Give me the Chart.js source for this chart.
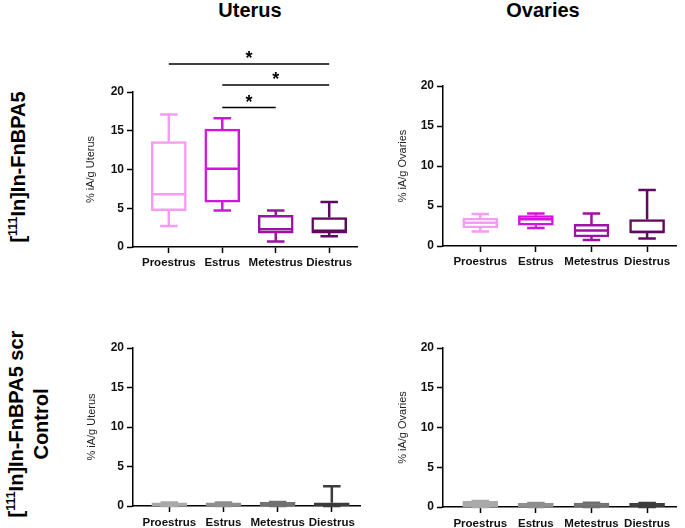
<!DOCTYPE html>
<html>
<head>
<meta charset="utf-8">
<script src="https://cdn.jsdelivr.net/npm/chart.js@4.4.1/dist/chart.umd.min.js"></script>
<style>
    body { margin: 0; background: #fff; }
    #wrap { position: relative; width: 685px; height: 528px; overflow: hidden; font-family: 'Liberation Sans', Arial, sans-serif; color: #000; }
    canvas { position: absolute; }
    .title { position: absolute; top: 0; font-weight: bold; font-size: 20px; line-height: 20px; transform: translateX(-50%); white-space: nowrap; }
    .row { position: absolute; font-weight: bold; font-size: 20px; text-align: center; white-space: nowrap; transform: translate(-50%, -50%) rotate(-90deg); }
    .row sup { font-size: 0.62em; vertical-align: super; line-height: 0; }
</style>
</head>
<body>
<div id="wrap">
    <div class="title" style="left:250px">Uterus</div>
    <div class="title" style="left:543px">Ovaries</div>
    <div class="row" style="left:18px; top:167px; line-height:22px">[<sup>111</sup>In]In-FnBPA5</div>
    <div class="row" style="left:29px; top:424px; line-height:25px">[<sup>111</sup>In]In-FnBPA5 scr<br>Control</div>
    <canvas id="c1" width="292" height="235" style="left:70px; top:40px"></canvas>
    <canvas id="c2" width="300" height="235" style="left:380px; top:40px"></canvas>
    <canvas id="c3" width="292" height="198" style="left:70px; top:330px"></canvas>
    <canvas id="c4" width="300" height="198" style="left:380px; top:330px"></canvas>
</div>
<script>
const categories = ['Proestrus', 'Estrus', 'Metestrus', 'Diestrus'];
const yTicks = [0, 5, 10, 15, 20];

// [111In]In-FnBPA5, uterus
const uterusMin = [2.7, 4.7, 0.7, 1.4];
const uterusQ1 = [4.7, 5.8, 1.8, 1.8];
const uterusMedian = [6.8, 10.1, 2.3, 2.1];
const uterusQ3 = [13.6, 15.2, 4.1, 3.8];
const uterusMax = [17.1, 16.6, 4.7, 5.8];

// [111In]In-FnBPA5, ovaries
const ovariesMin = [1.8, 2.25, 0.75, 0.95];
const ovariesQ1 = [2.25, 2.6, 1.15, 1.65];
const ovariesMedian = [2.9, 3.35, 1.95, 1.75];
const ovariesQ3 = [3.5, 3.8, 2.7, 3.3];
const ovariesMax = [4.0, 4.05, 4.05, 7.0];

// scr control, uterus
const scrUterusMin = [0, 0, 0, 0];
const scrUterusQ1 = [0.05, 0.05, 0.05, 0.05];
const scrUterusMedian = [0.2, 0.2, 0.2, 0.2];
const scrUterusQ3 = [0.4, 0.4, 0.45, 0.4];
const scrUterusMax = [0.45, 0.45, 0.5, 2.5];

// scr control, ovaries
const scrOvariesMin = [0, 0, 0, 0];
const scrOvariesQ1 = [0.05, 0.05, 0.05, 0.05];
const scrOvariesMedian = [0.3, 0.2, 0.2, 0.2];
const scrOvariesQ3 = [0.7, 0.45, 0.5, 0.45];
const scrOvariesMax = [0.75, 0.5, 0.55, 0.5];

// significance brackets (uterus panel)
const sigFrom = [0, 1, 1];
const sigTo = [3, 3, 2];
const sigY = [23.6, 20.9, 18.0];
const sigLabel = ['*', '*', '*'];

const phaseColors = ['#f59bf0', '#d414de', '#9c12a6', '#5e0a60'];
const greyColors = ['#a9a9a9', '#8e8e8e', '#707070', '#3c3c3c'];
const FONT = "'Liberation Sans', Arial, sans-serif";
Chart.defaults.font.family = FONT;

const boxPlugin = {
    id: 'boxWhiskers',
    afterDatasetsDraw(chart) {
        const ctx = chart.ctx;
        const y = chart.scales.y;
        chart.data.datasets.forEach((ds, di) => {
            const meta = chart.getDatasetMeta(di);
            meta.data.forEach((bar, i) => {
                const cx = bar.x;
                const half = bar.width / 2;
                const cap = half / 2;
                const yMin = y.getPixelForValue(ds.whiskerMin[i]);
                const yMax = y.getPixelForValue(ds.whiskerMax[i]);
                const yQ1 = y.getPixelForValue(ds.data[i].y[0]);
                const yQ3 = y.getPixelForValue(ds.data[i].y[1]);
                const yMed = y.getPixelForValue(ds.median[i]);
                ctx.save();
                ctx.strokeStyle = ds.borderColor[i];
                ctx.lineWidth = ds.borderWidth;
                ctx.beginPath();
                if (yMax < yQ3) {
                    ctx.moveTo(cx, yQ3); ctx.lineTo(cx, yMax);
                    ctx.moveTo(cx - cap, yMax); ctx.lineTo(cx + cap, yMax);
                }
                if (yMin > yQ1) {
                    ctx.moveTo(cx, yQ1); ctx.lineTo(cx, yMin);
                    ctx.moveTo(cx - cap, yMin); ctx.lineTo(cx + cap, yMin);
                }
                ctx.moveTo(cx - half + 1, yMed); ctx.lineTo(cx + half - 1, yMed);
                ctx.stroke();
                ctx.restore();
            });
        });
    }
};

const sigPlugin = {
    id: 'sigBrackets',
    afterDraw(chart, args, opts) {
        if (!opts.show) return;
        const ctx = chart.ctx;
        const x = chart.scales.x;
        const y = chart.scales.y;
        ctx.save();
        ctx.strokeStyle = '#000';
        ctx.fillStyle = '#000';
        ctx.lineWidth = 1.5;
        ctx.font = 'bold 18px ' + FONT;
        ctx.textAlign = 'center';
        ctx.textBaseline = 'alphabetic';
        sigFrom.forEach((from, i) => {
            const x0 = x.getPixelForValue(from);
            const x1 = x.getPixelForValue(sigTo[i]);
            const py = y.getPixelForValue(sigY[i]);
            ctx.beginPath();
            ctx.moveTo(x0, py); ctx.lineTo(x1, py);
            ctx.stroke();
            ctx.fillText(sigLabel[i], (x0 + x1) / 2, py);
        });
        ctx.restore();
    }
};

function makePanel(id, p) {
    const data = categories.map((c, i) => ({ x: i, y: [p.q1[i], p.q3[i]] }));
    const grid = { drawOnChartArea: false, drawTicks: true, tickLength: 6, tickWidth: 1.5, tickColor: '#000', offset: false };
    const border = { display: true, color: '#000', width: 1.5 };
    return new Chart(document.getElementById(id), {
        type: 'bar',
        data: {
            datasets: [{
                data: data,
                whiskerMin: p.min,
                whiskerMax: p.max,
                median: p.median,
                backgroundColor: p.fill,
                borderColor: p.colors,
                borderWidth: 2.5,
                borderSkipped: false,
                barThickness: 35
            }]
        },
        options: {
            responsive: false,
            animation: false,
            layout: { padding: p.pad },
            plugins: {
                legend: { display: false },
                tooltip: { enabled: false },
                sigBrackets: { show: !!p.sig }
            },
            scales: {
                x: {
                    type: 'linear',
                    offset: false,
                    min: -0.67,
                    max: 3.52,
                    afterBuildTicks: s => { s.ticks = categories.map((c, i) => ({ value: i })); },
                    afterFit: s => { s.height = p.xH; },
                    grid: grid,
                    border: border,
                    ticks: {
                        autoSkip: false, maxRotation: 0, minRotation: 0, padding: p.tickPad,
                        color: '#111', font: { size: 11.5, weight: 'bold' },
                        callback: v => categories[v]
                    }
                },
                y: {
                    min: 0,
                    max: 20,
                    afterBuildTicks: s => { s.ticks = yTicks.map(v => ({ value: v })); },
                    afterFit: s => { s.width = p.yW; },
                    grid: grid,
                    border: border,
                    ticks: { padding: 3, color: '#111', font: { size: 12, weight: 'bold' } },
                    title: { display: true, text: p.yTitle, padding: 0, color: '#222', font: { size: 11 } }
                }
            }
        },
        plugins: [boxPlugin, sigPlugin]
    });
}

makePanel('c1', {
    q1: uterusQ1, q3: uterusQ3, min: uterusMin, max: uterusMax, median: uterusMedian,
    colors: phaseColors, fill: '#ffffff', yTitle: '% iA/g Uterus', sig: true,
    pad: { left: 14, right: 5, top: 52, bottom: 0 }, yW: 49, xH: 28, tickPad: 3
});
makePanel('c2', {
    q1: ovariesQ1, q3: ovariesQ3, min: ovariesMin, max: ovariesMax, median: ovariesMedian,
    colors: phaseColors, fill: '#ffffff', yTitle: '% iA/g Ovaries',
    pad: { left: 16, right: 4, top: 46, bottom: 0 }, yW: 47, xH: 29, tickPad: 3
});
makePanel('c3', {
    q1: scrUterusQ1, q3: scrUterusQ3, min: scrUterusMin, max: scrUterusMax, median: scrUterusMedian,
    colors: greyColors, fill: greyColors, yTitle: '% iA/g Uterus',
    pad: { left: 15, right: 2, top: 18, bottom: 0 }, yW: 48, xH: 22, tickPad: 4
});
makePanel('c4', {
    q1: scrOvariesQ1, q3: scrOvariesQ3, min: scrOvariesMin, max: scrOvariesMax, median: scrOvariesMedian,
    colors: greyColors, fill: greyColors, yTitle: '% iA/g Ovaries',
    pad: { left: 16, right: 4, top: 18, bottom: 0 }, yW: 47, xH: 21, tickPad: 4
});
</script>
</body>
</html>
